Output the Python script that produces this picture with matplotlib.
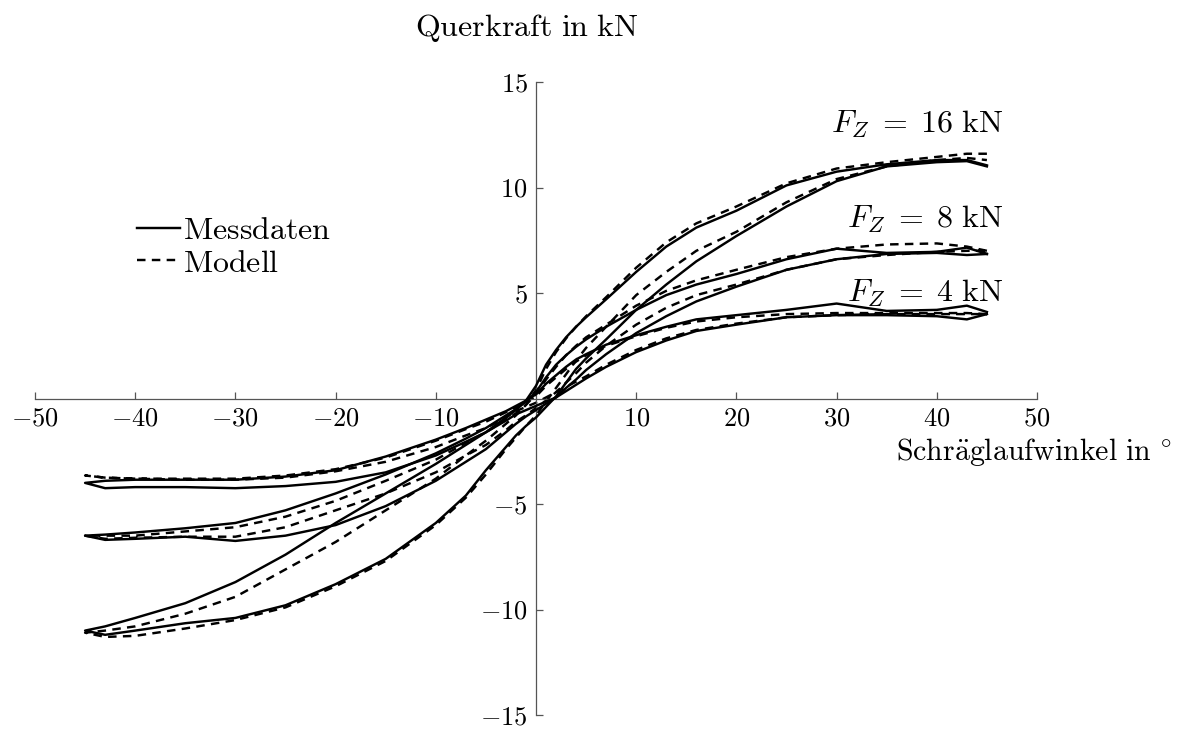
import numpy as np
import matplotlib
matplotlib.use("Agg")
from matplotlib import pyplot as plt

plt.rcParams["mathtext.fontset"] = "cm"
plt.rcParams["font.family"] = ["cmr10", "DejaVu Serif"]

# Schräglaufwinkel in Grad (gemeinsames Raster fuer alle Aeste)
alpha = [-45, -43, -40, -35, -30, -25, -20, -15, -10, -7, -5, -3, -2, -1, 0, 1, 2, 3, 4, 5,
         7, 10, 13, 16, 20, 25, 30, 35, 40, 43, 45]

# Fz = 16 kN
fy16_mess_oben = [-11.0, -10.8, -10.4, -9.7, -8.7, -7.4, -5.9, -4.5, -3.1, -2.2, -1.6, -0.9,
                  -0.55, -0.1, 0.6, 1.6, 2.3, 2.9, 3.4, 3.85, 4.7, 6.0, 7.2, 8.1, 8.9,
                  10.1, 10.75, 11.1, 11.3, 11.3, 11.05]
fy16_mess_unten = [-11.0, -11.2, -11.0, -10.65, -10.4, -9.8, -8.8, -7.6, -5.9, -4.6, -3.4, -2.3,
                   -1.75, -1.3, -0.9, -0.4, 0.1, 0.75, 1.4, 1.9, 2.8, 4.2, 5.4, 6.5, 7.7,
                   9.1, 10.3, 11.0, 11.2, 11.25, 11.0]
fy16_mod_oben = [-11.1, -11.0, -10.8, -10.2, -9.4, -8.1, -6.8, -5.3, -3.8, -2.7, -2.0, -1.2,
                 -0.8, -0.3, 0.4, 1.4, 2.2, 2.85, 3.4, 3.9, 4.8, 6.2, 7.4, 8.3, 9.1,
                 10.2, 10.9, 11.2, 11.45, 11.6, 11.6]
fy16_mod_unten = [-11.1, -11.3, -11.25, -10.9, -10.5, -9.9, -8.9, -7.7, -6.0, -4.7, -3.6, -2.4,
                  -1.85, -1.3, -0.8, -0.15, 0.5, 1.15, 1.8, 2.4, 3.4, 4.9, 6.0, 7.0, 7.9,
                  9.3, 10.4, 11.0, 11.3, 11.4, 11.3]

# Fz = 8 kN
fy8_mess_oben = [-6.5, -6.45, -6.35, -6.15, -5.9, -5.3, -4.5, -3.6, -2.6, -1.9, -1.4, -0.8,
                 -0.5, -0.15, 0.3, 1.0, 1.6, 2.05, 2.45, 2.8, 3.4, 4.2, 4.9, 5.4, 5.9,
                 6.6, 7.1, 6.9, 6.95, 7.15, 6.85]
fy8_mess_unten = [-6.5, -6.7, -6.65, -6.55, -6.75, -6.5, -6.0, -5.1, -3.9, -3.0, -2.4, -1.6,
                  -1.2, -0.85, -0.55, -0.25, 0.05, 0.5, 0.9, 1.35, 2.1, 3.1, 3.9, 4.6, 5.3,
                  6.1, 6.6, 6.85, 6.9, 6.8, 6.85]
fy8_mod_oben = [-6.5, -6.5, -6.5, -6.3, -6.1, -5.6, -4.85, -3.9, -2.9, -2.1, -1.6, -1.0,
                -0.7, -0.3, 0.2, 0.9, 1.5, 2.05, 2.5, 2.9, 3.5, 4.4, 5.1, 5.6, 6.1,
                6.7, 7.1, 7.3, 7.35, 7.2, 7.0]
fy8_mod_unten = [-6.5, -6.65, -6.6, -6.55, -6.55, -6.1, -5.3, -4.5, -3.5, -2.7, -2.2, -1.5,
                 -1.1, -0.8, -0.45, -0.1, 0.3, 0.75, 1.2, 1.7, 2.5, 3.5, 4.3, 4.9, 5.4,
                 6.1, 6.6, 6.8, 6.95, 7.0, 7.0]

# Fz = 4 kN
fy4_mess_oben = [-4.0, -3.9, -3.85, -3.85, -3.85, -3.7, -3.4, -2.75, -1.95, -1.4, -1.0, -0.6,
                 -0.35, -0.1, 0.2, 0.7, 1.1, 1.5, 1.85, 2.1, 2.55, 3.0, 3.4, 3.75, 3.95,
                 4.2, 4.5, 4.15, 4.2, 4.4, 4.1]
fy4_mess_unten = [-4.0, -4.25, -4.2, -4.2, -4.25, -4.15, -3.95, -3.5, -2.7, -2.05, -1.6, -1.05,
                  -0.75, -0.55, -0.35, -0.15, 0.05, 0.35, 0.65, 0.95, 1.5, 2.2, 2.75, 3.2, 3.5,
                  3.85, 3.95, 3.95, 3.9, 3.75, 4.0]
fy4_mod_oben = [-3.65, -3.75, -3.8, -3.8, -3.8, -3.65, -3.35, -2.8, -2.0, -1.45, -1.1, -0.65,
                -0.4, -0.15, 0.1, 0.6, 1.0, 1.4, 1.75, 2.05, 2.5, 2.95, 3.35, 3.65, 3.85,
                4.0, 4.05, 4.05, 4.05, 4.05, 4.0]
fy4_mod_unten = [-3.65, -3.75, -3.8, -3.85, -3.85, -3.75, -3.45, -3.0, -2.3, -1.75, -1.4, -0.9,
                 -0.6, -0.4, -0.2, 0.05, 0.3, 0.55, 0.8, 1.05, 1.6, 2.3, 2.85, 3.25, 3.55,
                 3.85, 3.95, 4.0, 4.0, 4.0, 4.0]

xticks = [-50, -40, -30, -20, -10, 10, 20, 30, 40, 50]
yticks = [-15, -10, -5, 5, 10, 15]

mess = [(fy16_mess_oben, fy16_mess_unten), (fy8_mess_oben, fy8_mess_unten),
        (fy4_mess_oben, fy4_mess_unten)]
modell = [(fy16_mod_oben, fy16_mod_unten), (fy8_mod_oben, fy8_mod_unten),
          (fy4_mod_oben, fy4_mod_unten)]


def schleife(oben, unten):
    # Ast oben von +45 nach -45, Ast unten zurueck -> geschlossene Schleife
    x = list(alpha[::-1]) + list(alpha)
    y = list(oben[::-1]) + list(unten)
    return x, y


fig = plt.figure(figsize=(11.79, 7.29), dpi=100)
ax = fig.add_axes([35 / 1179, 1 - 715 / 729, 1002 / 1179, 633 / 729])

lw = 1.75
for i, (oben, unten) in enumerate(modell):
    x, y = schleife(oben, unten)
    ax.plot(x, y, color="black", lw=lw, linestyle=(0, (3.5, 2.6)),
            label="Modell" if i == 0 else None, zorder=2)
for i, (oben, unten) in enumerate(mess):
    x, y = schleife(oben, unten)
    ax.plot(x, y, color="black", lw=lw, solid_joinstyle="round",
            label="Messdaten" if i == 0 else None, zorder=3)

ax.set_xlim(-50, 50)
ax.set_ylim(-15, 15)
axcol = "#555555"
for s in ["top", "right"]:
    ax.spines[s].set_visible(False)
for s in ["left", "bottom"]:
    ax.spines[s].set_position(("data", 0))
    ax.spines[s].set_color(axcol)
    ax.spines[s].set_linewidth(0.9)

ax.set_xticks(xticks)
ax.set_xticklabels([f"${v}$" for v in xticks])
ax.set_yticks(yticks)
ax.set_yticklabels([f"${v}$" for v in yticks])
ax.tick_params(axis="both", direction="in", length=5, width=0.9, color=axcol,
               labelsize=19)
ax.tick_params(axis="x", pad=6)
ax.tick_params(axis="y", pad=6)

fs = 23
fig.text(527 / 1179, 1 - 28 / 729, r"$\mathrm{Querkraft\ in\ kN}$", fontsize=fs,
         ha="center", va="center")
fig.text(1171 / 1179, 1 - 452 / 729, r"$\mathrm{Schr\ddot{a}glaufwinkel\ in\ }^{\circ}$",
         fontsize=21.5, ha="right", va="center")

ax.text(46.7, 13.0, r"$F_Z\;=\;16\ \mathrm{kN}$", fontsize=fs, ha="right", va="center")
ax.text(46.7, 8.5, r"$F_Z\;=\;8\ \mathrm{kN}$", fontsize=fs, ha="right", va="center")
ax.text(46.7, 5.0, r"$F_Z\;=\;4\ \mathrm{kN}$", fontsize=fs, ha="right", va="center")

handles, labels = ax.get_legend_handles_labels()
order = [labels.index("Messdaten"), labels.index("Modell")]
leg = ax.legend([handles[k] for k in order],
                [r"$\mathrm{Messdaten}$", r"$\mathrm{Modell}$"],
                loc="upper left", bbox_to_anchor=(137 / 1179, 1 - 217 / 729),
                bbox_transform=fig.transFigure, frameon=False, borderpad=0,
                borderaxespad=0, fontsize=fs, handlelength=1.35, handletextpad=0.1,
                labelspacing=0.12)

fig.savefig("out.png", dpi=100)
